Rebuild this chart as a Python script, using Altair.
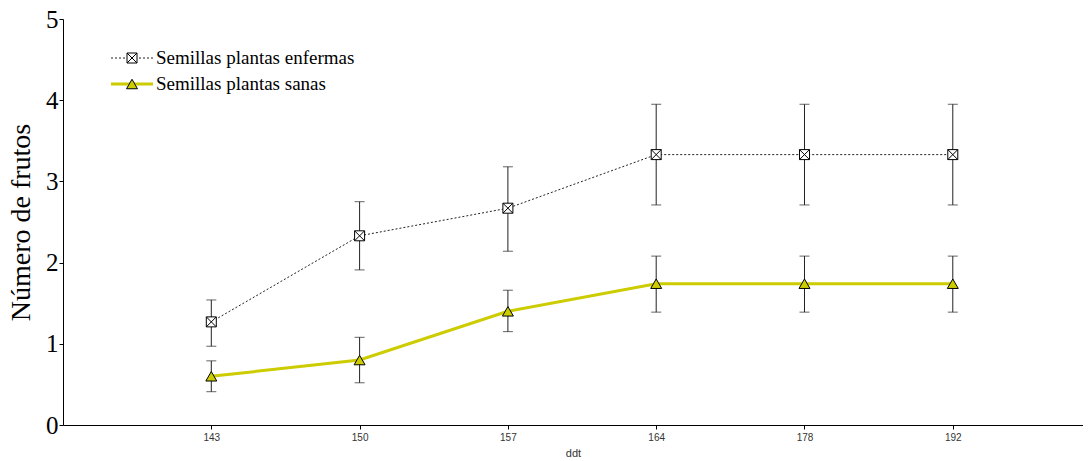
import altair as alt
import pandas as pd

# ---- data ----
ddt = ["143", "150", "157", "164", "178", "192"]
series_names = ["Semillas plantas enfermas", "Semillas plantas sanas"]

enf_mean = [1.27, 2.33, 2.67, 3.33, 3.33, 3.33]
enf_lo = [0.97, 1.91, 2.14, 2.71, 2.71, 2.71]
enf_hi = [1.54, 2.75, 3.18, 3.95, 3.95, 3.95]

san_mean = [0.60, 0.80, 1.40, 1.74, 1.74, 1.74]
san_lo = [0.41, 0.52, 1.15, 1.39, 1.39, 1.39]
san_hi = [0.79, 1.08, 1.66, 2.08, 2.08, 2.08]

idx = list(range(1, len(ddt) + 1))
df_enf = pd.DataFrame({"idx": idx, "ddt": ddt, "mean": enf_mean, "lo": enf_lo, "hi": enf_hi})
df_san = pd.DataFrame({"idx": idx, "ddt": ddt, "mean": san_mean, "lo": san_lo, "hi": san_hi})

label_array = "[" + ",".join("'%s'" % d for d in ddt) + "]"

SERIF = "Liberation Serif"
SANS = "Liberation Sans"
YELLOW = "#cccc00"
BOXX = "M-1,-1L1,-1L1,1L-1,1Z M-1,-1L1,1 M1,-1L-1,1"


def X():
    return alt.X(
        "idx:Q",
        scale=alt.Scale(domain=[0, 6.878], nice=False, zero=False),
        axis=alt.Axis(
            title="ddt", values=idx, labelExpr=label_array + "[datum.value-1]",
            grid=False, labelFont=SANS, labelFontSize=10, labelColor="#333",
            titleFont=SANS, titleFontSize=11, titleFontWeight="normal", titleColor="#333",
            tickSize=4, tickColor="#000", domainColor="#000", labelPadding=3, titlePadding=5,
        ),
    )


def Y(field):
    return alt.Y(
        field,
        scale=alt.Scale(domain=[0, 5], nice=False),
        axis=alt.Axis(
            title="Número de frutos", values=[0, 1, 2, 3, 4, 5], grid=False,
            labelFont=SERIF, labelFontSize=25, labelColor="#000",
            titleFont=SERIF, titleFontSize=28, titleFontWeight="normal", titleColor="#000",
            tickSize=4, tickColor="#000", domainColor="#000", labelPadding=1, titlePadding=10,
        ),
    )


line_enf = alt.Chart(df_enf).mark_line(color="#222", strokeWidth=1, strokeDash=[2, 2]).encode(x=X(), y=Y("mean:Q"))
line_san = alt.Chart(df_san).mark_line(color=YELLOW, strokeWidth=3).encode(x=X(), y=Y("mean:Q"))


def errbars(df):
    rule = alt.Chart(df).mark_rule(color="#222", strokeWidth=1).encode(x=X(), y=Y("lo:Q"), y2="hi:Q")
    cap_lo = alt.Chart(df).mark_tick(color="#222", orient="horizontal", size=10, thickness=1).encode(x=X(), y=Y("lo:Q"))
    cap_hi = alt.Chart(df).mark_tick(color="#222", orient="horizontal", size=10, thickness=1).encode(x=X(), y=Y("hi:Q"))
    return rule + cap_lo + cap_hi


pts_enf = alt.Chart(df_enf).mark_point(shape=BOXX, size=100, filled=False, fill="white", fillOpacity=1,
                                       stroke="#000", strokeWidth=1, opacity=1).encode(x=X(), y=Y("mean:Q"))
pts_san = alt.Chart(df_san).mark_point(shape="triangle-up", size=120, filled=True, fill=YELLOW,
                                       stroke="#000", strokeWidth=1, opacity=1).encode(x=X(), y=Y("mean:Q"))

# ---- legend (drawn in pixel space inside plot) ----
leg = pd.DataFrame({"label": series_names})
leg1 = leg.iloc[[0]]
leg2 = leg.iloc[[1]]
ly1, ly2 = 39, 65
lx0, lx1, lxs, lxt = 48, 90, 69, 93

legend = (
    alt.Chart(leg1).mark_rule(color="#222", strokeWidth=1, strokeDash=[2, 2]).encode(
        x=alt.value(lx0), x2=alt.value(lx1), y=alt.value(ly1))
    + alt.Chart(leg1).mark_point(shape=BOXX, size=100, filled=False, fill="white", fillOpacity=1,
                                 stroke="#000", strokeWidth=1, opacity=1).encode(x=alt.value(lxs), y=alt.value(ly1))
    + alt.Chart(leg1).mark_text(align="left", baseline="middle", font=SERIF, fontSize=19, color="#000").encode(
        x=alt.value(lxt), y=alt.value(ly1), text="label:N")
    + alt.Chart(leg2).mark_rule(color=YELLOW, strokeWidth=3).encode(
        x=alt.value(lx0), x2=alt.value(lx1), y=alt.value(ly2))
    + alt.Chart(leg2).mark_point(shape="triangle-up", size=120, filled=True, fill=YELLOW,
                                 stroke="#000", strokeWidth=1, opacity=1).encode(x=alt.value(lxs), y=alt.value(ly2))
    + alt.Chart(leg2).mark_text(align="left", baseline="middle", font=SERIF, fontSize=19, color="#000").encode(
        x=alt.value(lxt), y=alt.value(ly2), text="label:N")
)

chart = alt.layer(
    line_enf, line_san, errbars(df_enf), errbars(df_san), pts_enf, pts_san, legend
).properties(
    width=1020, height=406,
    autosize=alt.AutoSizeParams(type="none"),
    padding={"left": 55, "top": 11, "right": 0, "bottom": 36},
    background="white",
).configure_view(stroke=None)

chart.save("out.html", embed_options={"renderer": "svg", "actions": False})
